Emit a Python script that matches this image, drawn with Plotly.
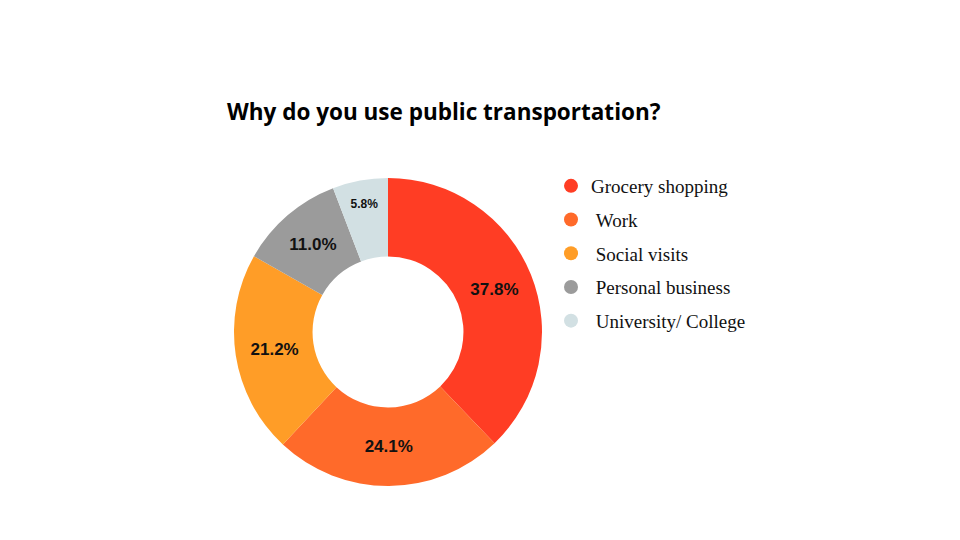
import plotly.graph_objects as go

# survey answers, share of respondents in %
reasons = ["Grocery shopping", "Work", "Social visits", "Personal business", "University/ College"]
shares = [37.8, 24.1, 21.2, 11.0, 5.8]
colors = ["#FF3D24", "#FF6A2A", "#FF9D27", "#9B9B9B", "#D2E0E3"]
label_sizes = [17, 17, 17, 17, 12]

# page body adds an 8px margin, so positions are pulled back by that
off = 8
cx, cy, r = 388 - off, 332 - off, 154

fig = go.Figure()

fig.add_trace(go.Pie(
    labels=reasons,
    values=shares,
    marker=dict(colors=colors, line=dict(width=0)),
    hole=0.49,
    sort=False,
    direction="clockwise",
    rotation=0,
    texttemplate="%{value:.1f}%",
    textposition="inside",
    insidetextorientation="horizontal",
    textfont=dict(family="Liberation Sans", size=label_sizes, color="#111111", weight="bold"),
    showlegend=False,
    domain=dict(x=[(cx - r) / 960, (cx + r) / 960],
                y=[(540 - cy - r) / 540, (540 - cy + r) / 540]),
))

# legend entries as round markers
for i, (name, c) in enumerate(zip(reasons, colors)):
    label = name if i == 0 else "\u00a0" + name
    fig.add_trace(go.Scatter(
        x=[None], y=[None], mode="markers", name=label,
        marker=dict(color=c, size=14, symbol="circle"),
        legendgroup=str(i),
    ))

fig.update_layout(
    width=960, height=540,
    margin=dict(l=0, r=0, t=0, b=0),
    paper_bgcolor="white",
    plot_bgcolor="white",
    title=dict(text="<b>Why do you use public transportation?</b>",
               font=dict(family="Open Sans", size=22.5, color="#000000"),
               x=(227 - off) / 960, xanchor="left", y=1 - (112 - off) / 540, yanchor="middle"),
    xaxis=dict(visible=False),
    yaxis=dict(visible=False),
    legend=dict(x=(551 - off) / 960, xanchor="left", y=1 - (172 - off - 5) / 540, yanchor="top",
                font=dict(family="Liberation Serif", size=19, color="#111111"),
                tracegroupgap=6, bgcolor="rgba(0,0,0,0)"),
)

fig.write_html("out.html")
